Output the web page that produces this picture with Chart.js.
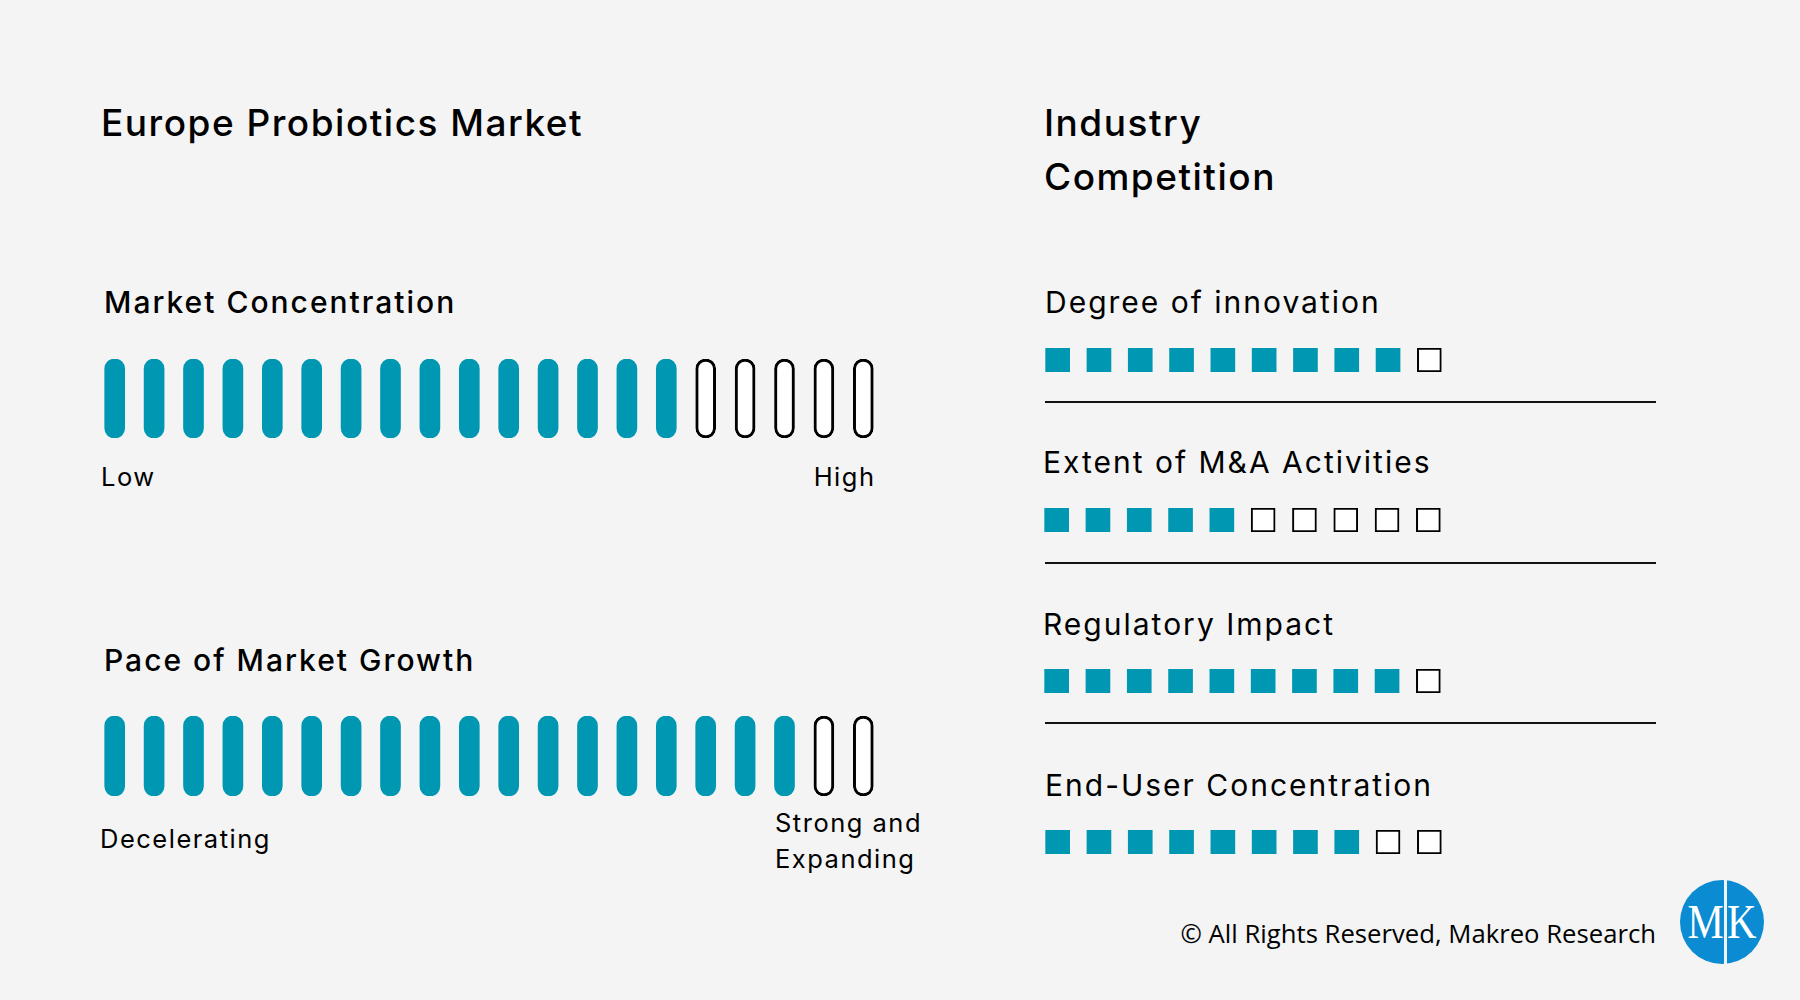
<!DOCTYPE html>
<html>
<head>
<meta charset="utf-8">
<script src="https://cdn.jsdelivr.net/npm/chart.js@4.4.0/dist/chart.umd.min.js"></script>
<style>
html, body { margin: 0; padding: 0; background: #f4f4f4; }
body { width: 1800px; height: 1000px; position: relative; overflow: hidden; font-family: Inter, "Noto Sans", sans-serif; color: #000; }
.txt { position: absolute; white-space: nowrap; line-height: 1; }
.title { font-size: 37px; font-weight: 500; letter-spacing: 1.5px; }
.sub { font-size: 30px; font-weight: 500; letter-spacing: 2px; }
.lbl { font-size: 30px; font-weight: 400; letter-spacing: 2px; }
.end { font-size: 25.5px; font-weight: 400; letter-spacing: 1.5px; }
.copy { font-family: "Open Sans", sans-serif; font-size: 25.7px; font-weight: 400; }
.logoTxt { font-family: "Liberation Serif", "DejaVu Serif", serif; font-size: 48px; color: #fff; }
canvas { position: absolute; }
.rule { position: absolute; left: 1045px; width: 611px; height: 2px; background: #111; }
#logo { position: absolute; left: 1680px; top: 880px; width: 84px; height: 84px; border-radius: 50%; background: #0a8bd2; }
#logoBar { position: absolute; left: 1724px; top: 880px; width: 3px; height: 84px; background: #eef4f8; }
</style>
</head>
<body>

<canvas id="concChart" width="788" height="83" style="left:95px; top:357px;"></canvas>
<canvas id="growthChart" width="788" height="84" style="left:95px; top:714px;"></canvas>

<canvas id="innovChart" width="413" height="28" style="left:1037px; top:346px;"></canvas>
<canvas id="mnaChart" width="413" height="28" style="left:1036px; top:506px;"></canvas>
<canvas id="regChart" width="413" height="28" style="left:1036px; top:667px;"></canvas>
<canvas id="endUserChart" width="413" height="28" style="left:1037px; top:828px;"></canvas>

<div class="rule" style="top:401px;"></div>
<div class="rule" style="top:562px;"></div>
<div class="rule" style="top:722px;"></div>

<div id="logo"></div>

<script>
const TEAL = '#0097b2';

// left panel: 1 = filled segment, 0 = empty segment
const gaugeTitles = ['Market Concentration', 'Pace of Market Growth'];
const concentrationSegments = [1, 1, 1, 1, 1, 1, 1, 1, 1, 1, 1, 1, 1, 1, 1, 0, 0, 0, 0, 0];
const growthSegments = [1, 1, 1, 1, 1, 1, 1, 1, 1, 1, 1, 1, 1, 1, 1, 1, 1, 1, 0, 0];
const concentrationEnds = ['Low', 'High'];
const growthEnds = ['Decelerating', 'Strong and', 'Expanding'];

// right panel
const competitionLabels = ['Degree of innovation', 'Extent of M&A Activities', 'Regulatory Impact', 'End-User Concentration'];
const innovationCells = [1, 1, 1, 1, 1, 1, 1, 1, 1, 0];
const mnaCells = [1, 1, 1, 1, 1, 0, 0, 0, 0, 0];
const regulatoryCells = [1, 1, 1, 1, 1, 1, 1, 1, 1, 0];
const endUserCells = [1, 1, 1, 1, 1, 1, 1, 1, 0, 0];

// put a line of text so that its baseline sits at y
function placeText(text, x, baseline, cls, anchor) {
    const d = document.createElement('div');
    d.className = 'txt ' + cls;
    d.textContent = text;
    const probe = document.createElement('span');
    probe.style.cssText = 'display:inline-block;width:0;height:0;vertical-align:baseline;letter-spacing:0;';
    d.appendChild(probe);
    document.body.appendChild(d);
    const off = probe.offsetTop;
    d.style.top = (baseline - off) + 'px';
    if (anchor === 'right') {
        // letter-spacing leaves a trailing gap after the last glyph
        const ls = parseFloat(getComputedStyle(d).letterSpacing) || 0;
        d.style.right = (1800 - x - ls) + 'px';
    } else {
        d.style.left = x + 'px';
    }
    return d;
}

function drawCells(canvasId, cells, shape) {
    const config = {
        type: 'bar',
        data: {
            labels: cells.map((c, i) => String(i + 1)),
            datasets: [{
                data: cells.map(() => 1),
                backgroundColor: cells.map(c => c ? TEAL : '#ffffff'),
                borderColor: cells.map(c => c ? TEAL : '#000000'),
                borderWidth: cells.map(c => c ? 0 : shape.border),
                borderRadius: shape.radius,
                borderSkipped: false,
                barThickness: shape.thickness
            }]
        },
        options: {
            responsive: false,
            animation: false,
            events: [],
            layout: { padding: { top: 2, bottom: 2, left: 0, right: 0 } },
            plugins: {
                legend: { display: false },
                tooltip: { enabled: false },
                title: { display: false }
            },
            scales: {
                x: { display: false },
                y: { display: false, min: 0, max: 1 }
            }
        }
    };
    return new Chart(document.getElementById(canvasId), config);
}

const pill = { thickness: 20, radius: 10, border: 3 };
const box = { thickness: 24, radius: 0, border: 2 };

drawCells('concChart', concentrationSegments, pill);
drawCells('growthChart', growthSegments, pill);
drawCells('innovChart', innovationCells, box);
drawCells('mnaChart', mnaCells, box);
drawCells('regChart', regulatoryCells, box);
drawCells('endUserChart', endUserCells, box);

// texts
placeText('Europe Probiotics Market', 101, 136, 'title');
placeText('Industry', 1044, 136, 'title');
placeText('Competition', 1044, 190, 'title');

placeText(gaugeTitles[0], 104, 313, 'sub');
placeText(concentrationEnds[0], 101, 486, 'end');
placeText(concentrationEnds[1], 874, 486, 'end', 'right');

placeText(gaugeTitles[1], 104, 671, 'sub');
placeText(growthEnds[0], 100, 848, 'end');
placeText(growthEnds[1], 775, 832, 'end');
placeText(growthEnds[2], 775, 868, 'end');

placeText(competitionLabels[0], 1045, 313, 'lbl');
placeText(competitionLabels[1], 1043, 473, 'lbl');
placeText(competitionLabels[2], 1043, 635, 'lbl');
placeText(competitionLabels[3], 1045, 796, 'lbl');

placeText('\u00A9 All Rights Reserved, Makreo Research', 1656, 943, 'copy', 'right');

// logo
const m = placeText('M', 1724, 938, 'logoTxt', 'right');
m.style.transform = 'scaleX(0.85)';
m.style.transformOrigin = 'right center';
const bar = document.createElement('div');
bar.id = 'logoBar';
document.body.appendChild(bar);
const k = placeText('K', 1727, 938, 'logoTxt');
k.style.transform = 'scaleX(0.85)';
k.style.transformOrigin = 'left center';
</script>
</body>
</html>
